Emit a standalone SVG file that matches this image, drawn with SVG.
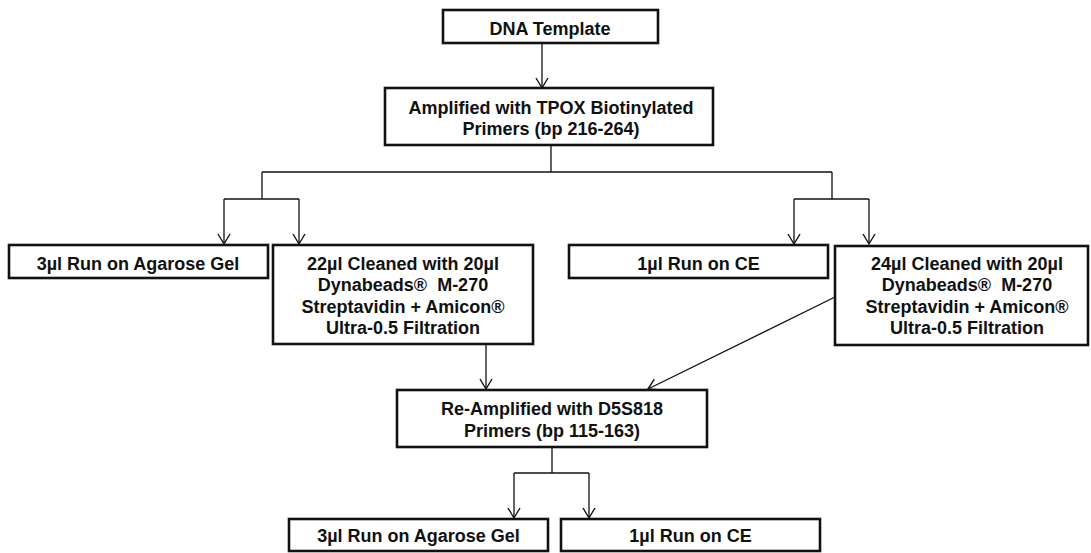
<svg xmlns="http://www.w3.org/2000/svg" width="1091" height="553" viewBox="0 0 1091 553">
<style>
.box{fill:#fff;stroke:#111;stroke-width:2.6}
.t{font-family:"Liberation Sans",Arial,sans-serif;font-weight:bold;font-size:18px;fill:#111;text-anchor:middle}
.c{fill:none;stroke:#111;stroke-width:1.3}
</style>
<defs>
<marker id="arr" markerUnits="userSpaceOnUse" markerWidth="14" markerHeight="14" viewBox="0 0 14 14" refX="11" refY="7" orient="auto">
<path d="M1,1 L11,7 L1,13" fill="none" stroke="#111" stroke-width="1.4"/>
</marker>
</defs>
<rect width="1091" height="553" fill="#fff"/>
<g id="connectors">
<path class="c" d="M542,43 V88" marker-end="url(#arr)"/>
<path class="c" d="M551,145 V172 M262,172 H832 M262,172 V199 M832,172 V199"/>
<path class="c" d="M224,199 H299 M224,199 V244" marker-end="url(#arr)"/>
<path class="c" d="M299,199 V244" marker-end="url(#arr)"/>
<path class="c" d="M794,199 H869 M794,199 V244" marker-end="url(#arr)"/>
<path class="c" d="M869,199 V244" marker-end="url(#arr)"/>
<path class="c" d="M486,345 V389" marker-end="url(#arr)"/>
<path class="c" d="M835,297 L648,389" marker-end="url(#arr)"/>
<path class="c" d="M552,447 V473 M514,473 H589 M514,473 V518" marker-end="url(#arr)"/>
<path class="c" d="M589,473 V518" marker-end="url(#arr)"/>
</g>
<g id="dna-template">
<rect class="box" x="443" y="10" width="215" height="33"/>
<text class="t" x="550" y="34.5">DNA Template</text>
</g>
<g id="amplified">
<rect class="box" x="385" y="88" width="328" height="57"/>
<text class="t" x="551" y="113.5">Amplified with TPOX Biotinylated</text>
<text class="t" x="551" y="135">Primers (bp 216-264)</text>
</g>
<g id="agarose-1">
<rect class="box" x="9" y="245" width="259" height="33"/>
<text class="t" x="138" y="269.5">3µl Run on Agarose Gel</text>
</g>
<g id="cleaned-22">
<rect class="box" x="273" y="245" width="260" height="99"/>
<text class="t" x="403" y="269.5">22µl Cleaned with 20µl</text>
<text class="t" x="403" y="291">Dynabeads®&#160; M-270</text>
<text class="t" x="403" y="312.5">Streptavidin + Amicon®</text>
<text class="t" x="403" y="334">Ultra-0.5 Filtration</text>
</g>
<g id="ce-1">
<rect class="box" x="569" y="245" width="259" height="33"/>
<text class="t" x="698.5" y="269.5">1µl Run on CE</text>
</g>
<g id="cleaned-24">
<rect class="box" x="835" y="246" width="253" height="99"/>
<text class="t" x="967" y="269.5">24µl Cleaned with 20µl</text>
<text class="t" x="967" y="291">Dynabeads®&#160; M-270</text>
<text class="t" x="967" y="312.5">Streptavidin + Amicon®</text>
<text class="t" x="967" y="334">Ultra-0.5 Filtration</text>
</g>
<g id="reamplified">
<rect class="box" x="397" y="390" width="310" height="57"/>
<text class="t" x="552" y="414.5">Re-Amplified with D5S818</text>
<text class="t" x="552" y="436.5">Primers (bp 115-163)</text>
</g>
<g id="agarose-2">
<rect class="box" x="289" y="519" width="259" height="32"/>
<text class="t" x="418.5" y="541.5">3µl Run on Agarose Gel</text>
</g>
<g id="ce-2">
<rect class="box" x="561" y="519" width="259" height="32"/>
<text class="t" x="690.5" y="541.5">1µl Run on CE</text>
</g>
</svg>
